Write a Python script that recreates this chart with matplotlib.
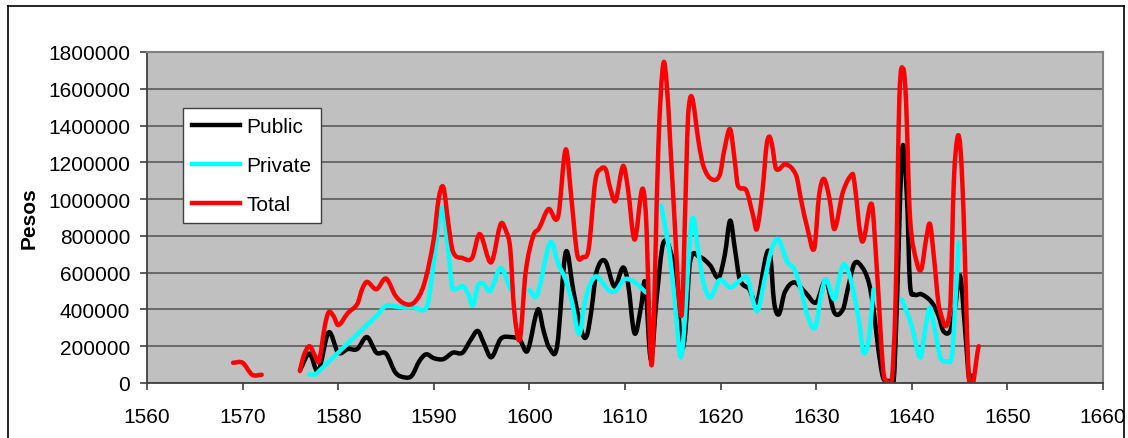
import numpy as np
import matplotlib
matplotlib.use("Agg")
import matplotlib.pyplot as plt
from matplotlib.path import Path
from matplotlib.patches import PathPatch
from matplotlib.lines import Line2D

plt.rcParams['font.family'] = ['Liberation Sans', 'DejaVu Sans']

# ---------------- data ----------------
public_years = [1576.0, 1577.0, 1577.9, 1579.0, 1580.0, 1581.0, 1582.0, 1583.0, 1584.0, 1585.0,
                1586.0, 1587.0, 1587.7, 1588.5, 1589.2, 1590.0, 1591.0, 1592.0, 1593.0, 1593.9,
                1594.6, 1595.2, 1596.0, 1597.0, 1598.0, 1599.0, 1599.8, 1600.9, 1601.5, 1602.1,
                1602.9, 1603.8, 1604.6, 1605.5, 1606.0, 1606.5, 1607.0, 1607.9, 1608.9, 1609.8,
                1610.3, 1611.0, 1611.7, 1612.1, 1612.7, 1613.3, 1614.0, 1614.9, 1615.4, 1615.9,
                1616.3, 1616.8, 1617.8, 1618.9, 1619.8, 1620.45, 1621.0, 1621.5, 1622.0, 1623.0,
                1623.8, 1624.8, 1625.2, 1625.6, 1626.1, 1626.7, 1627.7, 1628.9, 1630.0, 1631.0,
                1631.9, 1632.8, 1633.3, 1634.0, 1634.8, 1635.5, 1636.0, 1636.5, 1637.0, 1637.6,
                1638.1, 1638.4, 1639.0, 1639.5, 1639.8, 1640.2, 1641.0, 1642.1, 1642.8, 1643.3,
                1644.0, 1644.5, 1645.05, 1645.6, 1646.0, 1646.3]
public_values = [70000, 160000, 65000, 275000, 165000, 185000, 185000, 250000, 165000, 160000,
                 56000, 30000, 40000, 120000, 156000, 135000, 130000, 165000, 165000, 238000,
                 283000, 220000, 140000, 240000, 250000, 235000, 175000, 400000, 280000, 190000,
                 200000, 710000, 500000, 274000, 256000, 401000, 601000, 665000, 525000, 628000,
                 547000, 270000, 420000, 547000, 129000, 456000, 760000, 692000, 510000, 200000,
                 274000, 656000, 685000, 640000, 574000, 700000, 883000, 728000, 565000, 510000,
                 440000, 700000, 690000, 438000, 374000, 492000, 547000, 490000, 438000, 556000,
                 383000, 401000, 510000, 650000, 630000, 547000, 401000, 183000, 29000, 11000,
                 11000, 365000, 1270000, 1000000, 547000, 483000, 483000, 438000, 365000, 283000,
                 283000, 401000, 583000, 274000, 20000, 40000]

private_years = [1577.0, 1577.6, 1578.0, 1579.0, 1580.0, 1581.0, 1582.0, 1583.0, 1584.0, 1585.0,
                 1586.0, 1587.0, 1588.0, 1588.9, 1589.4, 1590.0, 1590.7, 1591.0, 1591.5, 1591.9,
                 1592.2, 1593.1, 1593.6, 1594.1, 1594.6, 1595.2, 1595.9, 1597.0, 1598.0, 1599.0,
                 1600.0, 1600.8, 1602.2, 1603.0, 1603.8, 1604.5, 1605.2, 1605.8, 1606.3, 1607.0,
                 1608.3, 1609.0, 1610.0, 1611.0, 1612.2, 1613.0, 1613.8, 1614.7, 1615.2, 1615.9,
                 1617.0, 1617.7, 1618.2, 1618.9, 1619.9, 1621.0, 1622.0, 1622.8, 1623.8, 1624.6,
                 1625.3, 1626.0, 1627.0, 1627.7, 1628.4, 1629.1, 1629.9, 1630.5, 1631.0, 1631.9,
                 1632.4, 1632.9, 1633.6, 1634.5, 1634.95, 1635.5, 1636.0, 1637.0, 1638.95, 1640.0,
                 1640.9, 1641.4, 1641.9, 1642.4, 1643.0, 1643.7, 1644.2, 1644.5, 1644.9]
private_values = [47000, 47000, 65000, 115000, 165000, 215000, 265000, 315000, 365000, 420000,
                  416000, 410000, 410000, 396000, 438000, 656000, 937000, 928000, 728000, 529000,
                  510000, 525000, 483000, 420000, 529000, 540000, 500000, 625000, 510000, None,
                  505000, 478000, 765000, 650000, 560000, 430000, 265000, 438000, 529000, 580000,
                  505000, 500000, 565000, 547000, 492000, None, 965000, 692000, 456000, 147000,
                  883000, 700000, 547000, 465000, 560000, 520000, 556000, 570000, 392000, 560000,
                  720000, 783000, 656000, 620000, 510000, 365000, 301000, 474000, 565000, 456000,
                  565000, 647000, 565000, 329000, 165000, 238000, 510000, None, 456000, 310000,
                  138000, 292000, 410000, 292000, 138000, 120000, 147000, 383000, 765000]

total_years = [1569.0, 1570.0, 1571.0, 1572.0, 1574.0,
               1576.0, 1576.4, 1577.0, 1577.6, 1578.0, 1578.6, 1579.0, 1579.5, 1580.0, 1581.0,
               1582.0, 1582.5, 1583.0, 1584.0, 1585.0, 1586.0, 1587.0, 1588.0, 1589.0, 1590.0,
               1590.5, 1591.0, 1591.5, 1592.0, 1593.0, 1594.0, 1594.8, 1596.0, 1597.0, 1597.6,
               1598.0, 1598.4, 1599.0, 1599.6, 1600.4, 1601.0, 1602.0, 1603.0, 1603.8, 1604.4,
               1605.0, 1605.6, 1606.2, 1606.9, 1607.5, 1608.0, 1608.4, 1609.0, 1609.8, 1610.3,
               1611.0, 1611.8, 1612.2, 1612.8, 1613.5, 1614.0, 1614.4, 1615.0, 1615.9, 1616.4,
               1616.6, 1617.0, 1617.7, 1618.2, 1619.0, 1619.9, 1620.4, 1621.0, 1621.5, 1621.8,
               1622.7, 1623.4, 1623.8, 1624.4, 1624.8, 1625.1, 1625.4, 1625.8, 1626.8, 1627.9,
               1628.4, 1629.1, 1629.8, 1630.3, 1630.8, 1631.4, 1631.9, 1632.8, 1633.8, 1634.0,
               1634.8, 1635.8, 1636.3, 1637.0, 1637.4, 1637.9, 1638.3, 1638.7, 1639.1, 1639.4,
               1639.8, 1640.5, 1641.0, 1641.5, 1641.9, 1642.3, 1642.9, 1644.0, 1644.4, 1644.8,
               1645.1, 1645.4, 1646.0, 1647.0]
total_values = [110000, 110000, 45000, 45000, None,
                65000, 150000, 200000, 145000, 120000, 310000, 385000, 365000, 315000, 380000,
                430000, 510000, 550000, 510000, 568000, 474000, 430000, 440000, 540000, 783000,
                1000000, 1065000, 875000, 715000, 680000, 680000, 810000, 656000, 865000, 820000,
                728000, 400000, 238000, 600000, 800000, 840000, 946000, 905000, 1270000, 1000000,
                700000, 685000, 730000, 1100000, 1165000, 1160000, 1070000, 990000, 1180000, 1060000,
                780000, 1055000, 900000, 100000, 1300000, 1735000, 1600000, 1060000, 365000, 1130000,
                1455000, 1555000, 1310000, 1180000, 1110000, 1130000, 1270000, 1380000, 1200000, 1075000,
                1046000, 910000, 837000, 1055000, 1290000, 1340000, 1290000, 1165000, 1190000, 1130000,
                1000000, 837000, 732000, 1020000, 1110000, 1000000, 837000, 1040000, 1137000, 1090000,
                770000, 974000, 656000, 74000, 11000, 11000, 450000, 1550000, 1710000, 1530000,
                910000, 660000, 620000, 783000, 865000, 692000, 401000, 401000, 1100000, 1340000,
                1270000, 946000, 11000, 200000]

series_names = ["Public", "Private", "Total"]
series_colors = ["#000000", "#00FFFF", "#FF0000"]

x_ticks = [1560, 1570, 1580, 1590, 1600, 1610, 1620, 1630, 1640, 1650, 1660]
y_ticks = [0, 200000, 400000, 600000, 800000, 1000000, 1200000, 1400000, 1600000, 1800000]
y_label = "Pesos"


# ---------------- helpers ----------------
def smooth_path(xs, ys):
    xs = np.asarray(xs, dtype=float)
    ys = np.array([np.nan if v is None else v for v in ys], dtype=float)
    verts, codes = [], []
    idx = np.flatnonzero(~np.isnan(ys))
    runs = np.split(idx, np.flatnonzero(np.diff(idx) > 1) + 1)
    for r in runs:
        x, y = xs[r], ys[r]
        n = len(x)
        if n < 2:
            continue
        m = np.zeros(n)
        for i in range(n):
            if i == 0:
                m[i] = (y[1] - y[0]) / (x[1] - x[0])
            elif i == n - 1:
                m[i] = (y[-1] - y[-2]) / (x[-1] - x[-2])
            else:
                m[i] = (y[i + 1] - y[i - 1]) / (x[i + 1] - x[i - 1])
        verts.append((x[0], y[0]))
        codes.append(Path.MOVETO)
        for i in range(n - 1):
            h = x[i + 1] - x[i]
            verts += [(x[i] + h / 3, y[i] + m[i] * h / 3),
                      (x[i + 1] - h / 3, y[i + 1] - m[i + 1] * h / 3),
                      (x[i + 1], y[i + 1])]
            codes += [Path.CURVE4] * 3
    return Path(verts, codes)


# ---------------- figure ----------------
W, H = 1128, 439
fig = plt.figure(figsize=(W / 100, H / 100), dpi=100)
fig.patch.set_facecolor("white")
ax = fig.add_axes([147 / W, 1 - 384 / H, 956 / W, 331 / H])
ax.set_facecolor("#C0C0C0")
ax.set_xlim(1560, 1660)
ax.set_ylim(0, 1800000)

ax.set_axisbelow(True)
ax.yaxis.grid(True, color="#5a5a5a", linewidth=1.2)
ax.xaxis.grid(False)

series = [(public_years, public_values), (private_years, private_values), (total_years, total_values)]
handles = []
for (xs, ys), name, col in zip(series, series_names, series_colors):
    p = PathPatch(smooth_path(xs, ys), facecolor="none", edgecolor=col, linewidth=3.2,
                  capstyle="round", joinstyle="round", transform=ax.transData)
    ax.add_patch(p)
    handles.append(Line2D([], [], color=col, linewidth=3.2, label=name))

ax.set_xticks(x_ticks)
ax.set_xticklabels([str(t) for t in x_ticks])
ax.set_yticks(y_ticks)
ax.set_yticklabels([str(t) for t in y_ticks])
ax.tick_params(axis="both", labelsize=15, color="#404040", length=5, width=1.2)
ax.tick_params(axis="x", pad=12)
ax.tick_params(axis="y", pad=7)

for side in ["left", "bottom"]:
    ax.spines[side].set_color("#404040")
    ax.spines[side].set_linewidth(1.3)
for side in ["top", "right"]:
    ax.spines[side].set_color("#808080")
    ax.spines[side].set_linewidth(1.5)

ax.set_ylabel(y_label, fontsize=15, fontweight="bold")
ax.yaxis.set_label_coords(-108 / 956, 0.5)

leg = ax.legend(handles=handles, loc="upper left", bbox_to_anchor=(36 / 956, 1 - 56 / 331),
                borderaxespad=0, fontsize=15, frameon=True, fancybox=False,
                handlelength=2.3, handletextpad=0.3, labelspacing=0.95, borderpad=0.45)
fr = leg.get_frame()
fr.set_facecolor("white")
fr.set_edgecolor("#404040")
fr.set_linewidth(1.0)
fr.set_alpha(1)

# outer chart frame
fig.add_artist(Line2D([8 / W, 8 / W], [0, 1 - 7 / H], color="black", linewidth=1.2))
fig.add_artist(Line2D([8 / W, 1124 / W], [1 - 7 / H, 1 - 7 / H], color="black", linewidth=1.2))
fig.add_artist(Line2D([1124 / W, 1124 / W], [0, 1 - 7 / H], color="black", linewidth=1.2))

fig.savefig("out.png", dpi=100)
